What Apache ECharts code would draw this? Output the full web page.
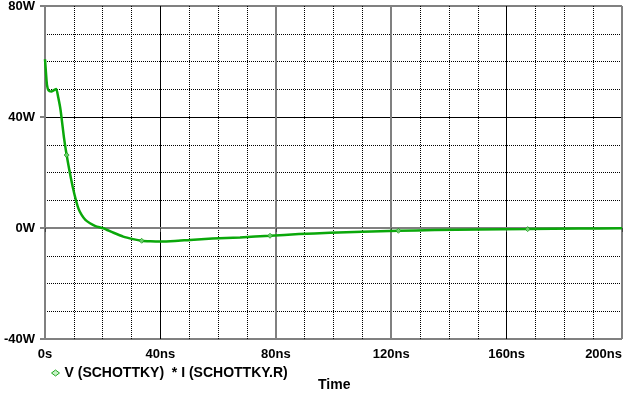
<!DOCTYPE html>
<html>
<head>
<meta charset="utf-8">
<script src="https://cdn.jsdelivr.net/npm/echarts@6/dist/echarts.min.js"></script>
<style>
html,body{margin:0;padding:0;background:#fff;}
#chart{width:626px;height:393px;}
</style>
</head>
<body>
<div id="chart"></div>
<script>
// ---- data ----
const timeNs = [0, 0.4, 0.7, 1.2, 2.2, 3.0, 3.9, 4.6, 5.4, 6.6, 7.5, 8.5, 9.6, 10.7, 11.6, 12.7, 14.0, 15.6, 17.5, 20.2, 23.5, 27.1, 30.5, 33.5, 36.5, 39.9, 45, 50.3, 58, 67.6, 78, 88, 98.8, 110, 122.5, 135, 150, 167.3, 185, 200];
const powerW = [60.8, 55, 51.5, 49.6, 49.2, 49.6, 50.1, 47, 42.5, 32.4, 26.3, 20.5, 14.9, 10.1, 7.0, 4.7, 2.9, 1.7, 0.7, -0.1, -1.6, -3.1, -4.0, -4.6, -4.8, -4.9, -4.7, -4.3, -3.8, -3.4, -2.8, -2.2, -1.7, -1.35, -1.0, -0.75, -0.55, -0.4, -0.2, -0.1];
const markerTimeNs = [7.5, 33.5, 78, 122.5, 167.3];
const markerPowerW = [26.3, -4.6, -2.8, -1.0, -0.4];
const xTickLabels = ['0s', '40ns', '80ns', '120ns', '160ns', '200ns'];
const yTickLabels = ['-40W', '0W', '40W', '80W'];
const seriesName = 'V (SCHOTTKY)  * I (SCHOTTKY.R)';
const xAxisTitle = 'Time';

const lineData = timeNs.map((t, i) => [t, powerW[i]]);
const markerData = markerTimeNs.map((t, i) => [t, markerPowerW[i]]);

const FONT = '"Liberation Sans", Arial, sans-serif';
const GREY = '#808080';
const T = 'transparent';

const minorSplit = {show: true, lineStyle: {color: '#000', width: 1, type: [1, 1]}};

const chart = echarts.init(document.getElementById('chart'), null, {renderer: 'canvas'});
chart.setOption({
  backgroundColor: '#fff',
  animation: false,
  grid: {left: 45, right: 4, top: 6, bottom: 54, containLabel: false, outerBoundsMode: 'none'},
  legend: {
    show: true,
    left: 46, top: 361,
    icon: 'diamond',
    itemWidth: 8, itemHeight: 6,
    textStyle: {fontFamily: FONT, fontWeight: 'bold', fontSize: 14, color: '#000'},
    data: [{name: seriesName, itemStyle: {color: '#c8f0c8', borderColor: '#22aa22', borderWidth: 1}}]
  },
  graphic: [{
    type: 'text', left: 318, top: 378,
    style: {text: xAxisTitle, font: 'bold 14px ' + FONT, fill: '#000'}
  }],
  xAxis: [{
    type: 'value', min: 0, max: 200, interval: 40,
    axisLine: {show: true, lineStyle: {color: GREY, width: 2}},
    axisTick: {show: true, length: 4, lineStyle: {color: '#444', width: 1}},
    axisLabel: {
      fontFamily: FONT, fontWeight: 'bold', fontSize: 13, color: '#000', margin: 9,
      alignMaxLabel: 'right',
      formatter: v => xTickLabels[Math.round(v / 40)]
    },
    minorTick: {show: false, splitNumber: 4},
    minorSplitLine: minorSplit,
    splitLine: {show: true, lineStyle: {width: 2, color: [GREY, T, GREY, GREY, T, GREY]}}
  }, {
    type: 'value', min: 0, max: 200, interval: 40,
    axisLine: {show: false}, axisTick: {show: false}, axisLabel: {show: false},
    splitLine: {show: true, lineStyle: {width: 1, color: [T, '#000', T, T, '#000', T]}}
  }],
  yAxis: [{
    type: 'value', min: -40, max: 80, interval: 40,
    axisLine: {show: true, lineStyle: {color: GREY, width: 2}},
    axisTick: {show: true, length: 5, lineStyle: {color: GREY, width: 2}},
    axisLabel: {
      fontFamily: FONT, fontWeight: 'bold', fontSize: 13, color: '#000', margin: 10,
      formatter: v => yTickLabels[Math.round((v + 40) / 40)]
    },
    minorTick: {show: false, splitNumber: 4},
    minorSplitLine: minorSplit,
    splitLine: {show: true, lineStyle: {width: 2, color: [GREY, GREY, T, GREY]}}
  }, {
    type: 'value', min: -40, max: 80, interval: 40,
    axisLine: {show: false}, axisTick: {show: false}, axisLabel: {show: false},
    splitLine: {show: true, lineStyle: {width: 1, color: [T, T, '#000', T]}}
  }],
  series: [{
    name: seriesName,
    type: 'line',
    data: lineData,
    showSymbol: false,
    symbol: 'none',
    smooth: 0.2,
    lineStyle: {color: '#0aa80a', width: 2.5},
    itemStyle: {color: '#0aa80a'},
    z: 5
  }, {
    name: 'markers',
    type: 'scatter',
    data: markerData,
    symbol: 'diamond',
    symbolSize: 5,
    itemStyle: {color: '#7fd87f', borderColor: '#119911', borderWidth: 1},
    z: 6
  }]
});
</script>
</body>
</html>
